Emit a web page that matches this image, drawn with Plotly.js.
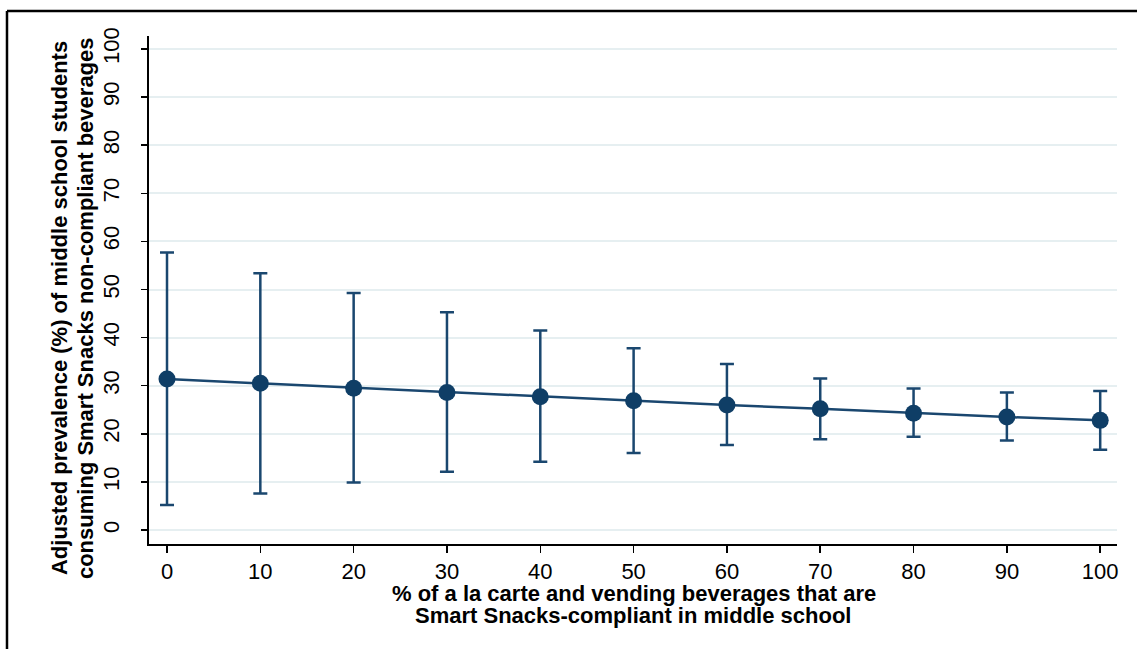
<!DOCTYPE html>
<html>
<head>
<meta charset="utf-8">
<script src="https://cdn.plot.ly/plotly-3.0.1.min.js"></script>
<style>html,body{margin:0;padding:0;background:#fff;}#chart{width:1137px;height:649px;}</style>
</head>
<body>
<div id="chart"></div>
<script>
const xValues = [0, 10, 20, 30, 40, 50, 60, 70, 80, 90, 100];
const prevalence = [31.4, 30.5, 29.5, 28.6, 27.7, 26.9, 26.0, 25.2, 24.3, 23.5, 22.8];
const upperCI = [57.7, 53.4, 49.3, 45.3, 41.5, 37.8, 34.5, 31.5, 29.4, 28.6, 28.9];
const lowerCI = [5.2, 7.6, 9.9, 12.1, 14.2, 16.0, 17.7, 18.9, 19.4, 18.6, 16.7];
const yTicks = [0, 10, 20, 30, 40, 50, 60, 70, 80, 90, 100];
const xTicks = [0, 10, 20, 30, 40, 50, 60, 70, 80, 90, 100];
const xTitleLines = ['% of a la carte and vending beverages that are', 'Smart Snacks-compliant in middle school'];
const yTitleLines = ['Adjusted prevalence (%) of middle school students', 'consuming Smart Snacks non-compliant beverages'];

const navy = '#1a476f';
const errPlus = upperCI.map((u, i) => u - prevalence[i]);
const errMinus = prevalence.map((p, i) => p - lowerCI[i]);

const trace = {
  x: xValues,
  y: prevalence,
  type: 'scatter',
  mode: 'lines+markers',
  line: {color: navy, width: 2.5},
  marker: {color: '#0f3e66', size: 17},
  error_y: {
    type: 'data', symmetric: false,
    array: errPlus, arrayminus: errMinus,
    color: navy, thickness: 2.5, width: 7
  },
  showlegend: false,
  hoverinfo: 'x+y'
};

const font = 'Arial, "Liberation Sans", Helvetica, sans-serif';
const titleFont = {size: 22, family: font, color: '#000', weight: 'bold'};

const layout = {
  width: 1137, height: 649,
  margin: {l: 149, r: 20, t: 36, b: 105},
  paper_bgcolor: '#ffffff',
  plot_bgcolor: '#ffffff',
  font: {family: font, color: '#000'},
  xaxis: {
    range: [-1.93, 101.8],
    tickvals: xTicks,
    ticktext: xTicks.map(String),
    ticks: 'outside', ticklen: 7, tickwidth: 1.5, tickcolor: '#000',
    ticklabelstandoff: 0,
    showline: true, linecolor: '#000', linewidth: 2,
    showgrid: false, zeroline: false,
    tickfont: {size: 22, family: font, color: '#000'}
  },
  yaxis: {
    range: [-2.9, 102.7],
    tickvals: yTicks,
    ticktext: yTicks.map(String),
    tickangle: -90,
    ticks: 'outside', ticklen: 6, tickwidth: 1.5, tickcolor: '#000',
    ticklabelstandoff: 13,
    showline: true, linecolor: '#000', linewidth: 2,
    showgrid: true, gridcolor: '#e6eff1', gridwidth: 2,
    zeroline: false,
    tickfont: {size: 22, family: font, color: '#000'}
  },
  annotations: [
    {text: '<b>' + xTitleLines[0] + '</b>', xref: 'paper', yref: 'paper', x: 0.501, y: -0.0975, xanchor: 'center', yanchor: 'middle', showarrow: false, font: titleFont},
    {text: '<b>' + xTitleLines[1] + '</b>', xref: 'paper', yref: 'paper', x: 0.5005, y: -0.1398, xanchor: 'center', yanchor: 'middle', showarrow: false, font: titleFont},
    {text: '<b>' + yTitleLines[0] + '</b>', xref: 'paper', yref: 'paper', x: -0.0919, y: 0.4646, xanchor: 'center', yanchor: 'middle', textangle: -90, showarrow: false, font: titleFont},
    {text: '<b>' + yTitleLines[1] + '</b>', xref: 'paper', yref: 'paper', x: -0.065, y: 0.4646, xanchor: 'center', yanchor: 'middle', textangle: -90, showarrow: false, font: titleFont}
  ],
  shapes: [
    {type: 'line', xref: 'paper', yref: 'paper', x0: -0.1467, x1: -0.1467, y0: 1.0492, y1: -0.3, line: {color: '#000', width: 2.5}},
    {type: 'line', xref: 'paper', yref: 'paper', x0: -0.1467, x1: 1.1, y0: 1.0492, y1: 1.0492, line: {color: '#000', width: 2.5}}
  ]
};

Plotly.newPlot('chart', [trace], layout, {displayModeBar: false, staticPlot: true});
</script>
</body>
</html>
